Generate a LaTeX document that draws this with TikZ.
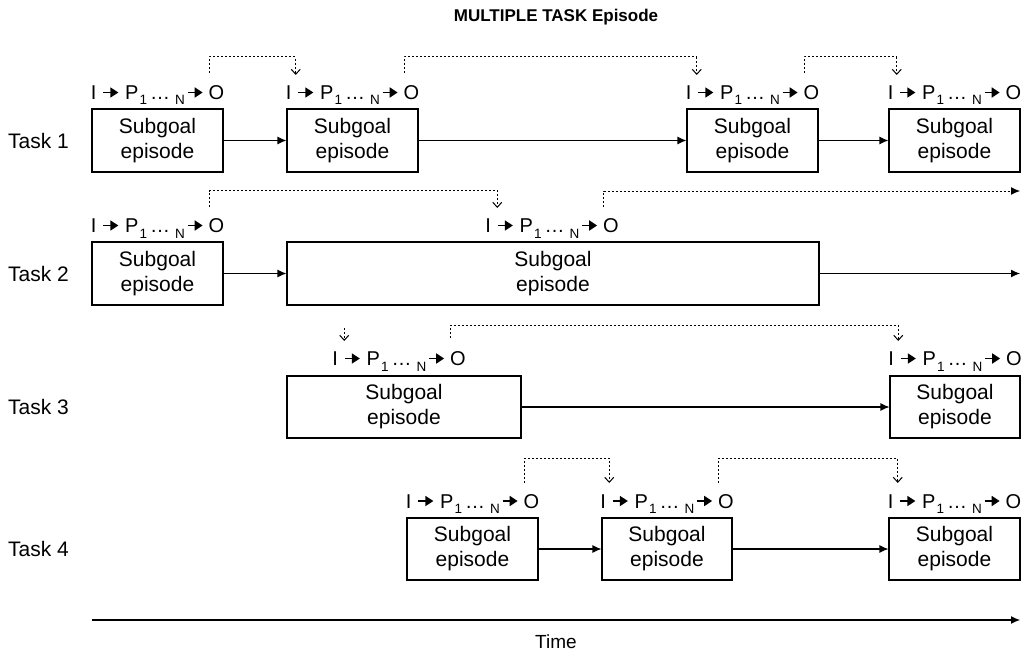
\documentclass[tikz,border=0pt]{standalone}
\usepackage{fontspec}
\setmainfont{Liberation Sans}
\usetikzlibrary{arrows.meta}

% short heavy arrow used inside the I -> P -> O tags
\newcommand\flowarrow{\tikz[baseline={(0pt,-7pt)}]\draw[line width=1.7pt,
  -{Triangle[length=8pt,width=10pt]}] (0pt,0pt) -- (15pt,0pt);}
\newcommand\lowsub[1]{\raisebox{-5.5pt}{\fontsize{13.5}{13}\selectfont #1}}
% input -> processes -> output tag shown above every subgoal episode
\newcommand\ioflow{I\hspace{6pt}\flowarrow\hspace{6pt}P\hspace{1pt}\lowsub{1}\hspace{3pt}…\hspace{5pt}\lowsub{N}\hspace{2pt}\flowarrow\hspace{5pt}O}

\tikzset{
  episode/.style={draw, line width=1.1pt, inner sep=0pt, align=center,
    font=\fontsize{21}{25}\selectfont},
  iotag/.style={inner sep=0pt, anchor=base, font=\fontsize{20}{22}\selectfont},
  tasklabel/.style={anchor=west, inner sep=0pt, font=\fontsize{21}{23}\selectfont},
  seq/.style={line width=1.1pt, -{Latex[length=9pt,width=8pt]}},
  link/.style={line width=1pt, dash pattern=on 2pt off 2pt,
    -{Straight Barb[length=5pt,width=9pt]}},
  linkout/.style={line width=1pt, dash pattern=on 2pt off 2pt,
    -{Latex[length=9pt,width=8pt]}},
}

\begin{document}
\begin{tikzpicture}[x=1pt, y=-1pt]
\useasboundingbox (0,0) rectangle (1025,658);

\node[font=\bfseries\fontsize{17}{20}\selectfont] (title) at (556,17) {MULTIPLE TASK Episode};

% ---------- Task 1 ----------
\node[tasklabel] (t1) at (8,140.5) {Task 1};
\node[episode, minimum width=131pt, minimum height=63pt] (b11) at (157.5,140.5) {Subgoal\\episode};
\node[episode, minimum width=131pt, minimum height=63pt] (b12) at (352.5,140.5) {Subgoal\\episode};
\node[episode, minimum width=131pt, minimum height=63pt] (b13) at (752.5,140.5) {Subgoal\\episode};
\node[episode, minimum width=131pt, minimum height=63pt] (b14) at (954.5,140.5) {Subgoal\\episode};
\node[iotag] (l11) at (157.5,99.5) {\ioflow};
\node[iotag] (l12) at (352.5,99.5) {\ioflow};
\node[iotag] (l13) at (752.5,99.5) {\ioflow};
\node[iotag] (l14) at (954.5,99.5) {\ioflow};
\draw[seq] (b11) -- (b12);
\draw[seq] (b12) -- (b13);
\draw[seq] (b13) -- (b14);
\draw[link] ([xshift=-15pt,yshift=26.5pt]l11.base east) -- ++(0pt,16pt) -| ([xshift=10pt,yshift=24.5pt]l12.base west);
\draw[link] ([xshift=-15pt,yshift=26.5pt]l12.base east) -- ++(0pt,16pt) -| ([xshift=11pt,yshift=24.5pt]l13.base west);
\draw[link] ([xshift=-15pt,yshift=26.5pt]l13.base east) -- ++(0pt,16pt) -| ([xshift=9pt,yshift=24.5pt]l14.base west);

% ---------- Task 2 ----------
\node[tasklabel] (t2) at (8,273.5) {Task 2};
\node[episode, minimum width=131pt, minimum height=63pt] (b21) at (157.5,273.5) {Subgoal\\episode};
\node[episode, minimum width=532pt, minimum height=63pt] (b22) at (553,273.5) {Subgoal\\episode};
\node[iotag] (l21) at (157.5,232.5) {\ioflow};
\node[iotag] (l22) at (552,232.5) {\ioflow};
\coordinate (e2) at (1020,273.5);
\coordinate (d2) at (1020,191);
\draw[seq] (b21) -- (b22);
\draw[seq] (b22) -- (e2);
\draw[link] ([xshift=-15pt,yshift=25.5pt]l21.base east) -- ++(0pt,16.5pt) -| ([xshift=12pt,yshift=24.5pt]l22.base west);
\draw[linkout] ([xshift=-15pt,yshift=25.5pt]l22.base east) |- (d2);

% ---------- Task 3 ----------
\node[tasklabel] (t3) at (8,407) {Task 3};
\node[episode, minimum width=234pt, minimum height=62pt] (b31) at (404,407) {Subgoal\\episode};
\node[episode, minimum width=130pt, minimum height=62pt] (b32) at (955,407) {Subgoal\\episode};
\node[iotag] (l31) at (399,365.5) {\ioflow};
\node[iotag] (l32) at (955,365.5) {\ioflow};
\coordinate (i31) at ([xshift=12pt,yshift=24.5pt]l31.base west);
\coordinate (d3) at ([yshift=13pt]i31);
\draw[seq] (b31) -- (b32);
\draw[link] (d3) -- (i31);
\draw[link] ([xshift=-15pt,yshift=27.5pt]l31.base east) -- ++(0pt,13pt) -| ([xshift=10pt,yshift=24.5pt]l32.base west);

% ---------- Task 4 ----------
\node[tasklabel] (t4) at (8,549) {Task 4};
\node[episode, minimum width=131pt, minimum height=62pt] (b41) at (472.5,549) {Subgoal\\episode};
\node[episode, minimum width=130pt, minimum height=62pt] (b42) at (667,549) {Subgoal\\episode};
\node[episode, minimum width=131pt, minimum height=62pt] (b43) at (954.5,549) {Subgoal\\episode};
\node[iotag] (l41) at (472.5,508) {\ioflow};
\node[iotag] (l42) at (667,508) {\ioflow};
\node[iotag] (l43) at (954.5,508) {\ioflow};
\draw[seq] (b41) -- (b42);
\draw[seq] (b42) -- (b43);
\draw[link] ([xshift=-15pt,yshift=25.5pt]l41.base east) -- ++(0pt,24.5pt) -| ([xshift=9pt,yshift=25pt]l42.base west);
\draw[link] ([xshift=-15pt,yshift=25.5pt]l42.base east) -- ++(0pt,24.5pt) -| ([xshift=10pt,yshift=25pt]l43.base west);

% ---------- time axis ----------
\coordinate (t0) at (92,620);
\coordinate (t9) at (1020,620);
\draw[seq] (t0) -- (t9);
\node[font=\fontsize{19}{23}\selectfont] (time) at (556,642) {Time};
\end{tikzpicture}
\end{document}
